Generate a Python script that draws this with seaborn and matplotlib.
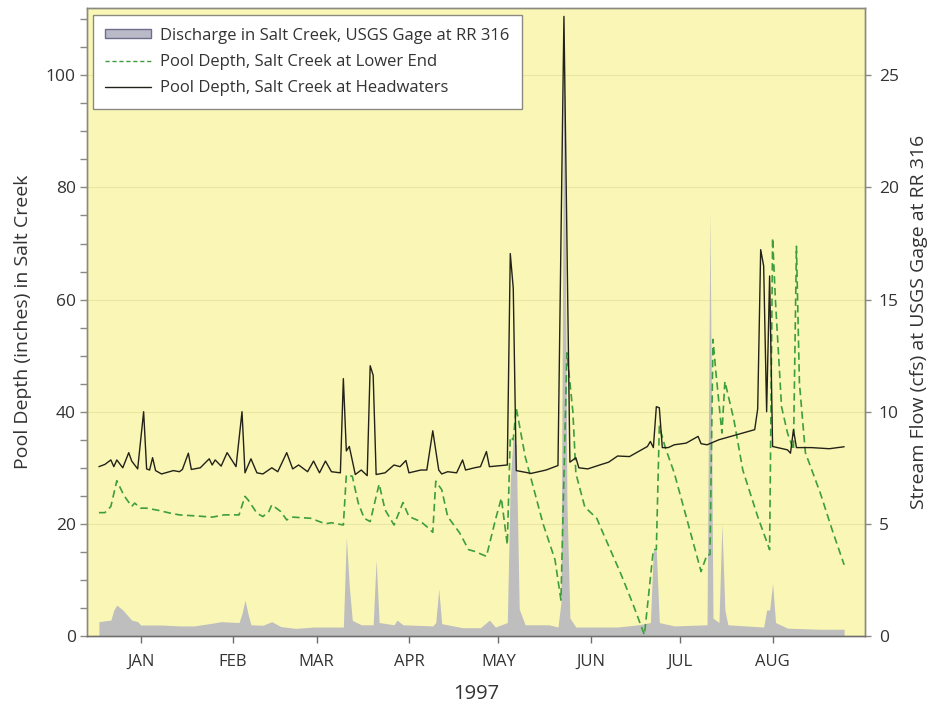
import matplotlib
matplotlib.use("Agg")
import matplotlib.pyplot as plt
import seaborn as sns
import pandas as pd
from matplotlib.patches import Patch
from matplotlib.lines import Line2D
from matplotlib.ticker import MultipleLocator

# ---------------- data ----------------
head_dates = ["1996-12-18", "1996-12-20", "1996-12-22", "1996-12-23", "1996-12-24", "1996-12-26",
              "1996-12-28", "1996-12-29", "1996-12-31", "1997-01-02", "1997-01-03", "1997-01-04",
              "1997-01-05", "1997-01-06", "1997-01-08", "1997-01-12", "1997-01-14", "1997-01-15",
              "1997-01-17", "1997-01-18", "1997-01-21", "1997-01-24", "1997-01-25", "1997-01-26",
              "1997-01-28", "1997-01-30", "1997-02-02", "1997-02-04", "1997-02-05", "1997-02-07",
              "1997-02-09", "1997-02-11", "1997-02-14", "1997-02-16", "1997-02-19", "1997-02-21",
              "1997-02-23", "1997-02-26", "1997-02-28", "1997-03-02", "1997-03-04", "1997-03-06",
              "1997-03-09", "1997-03-10", "1997-03-11", "1997-03-12", "1997-03-14", "1997-03-16",
              "1997-03-18", "1997-03-19", "1997-03-20", "1997-03-21", "1997-03-24", "1997-03-27",
              "1997-03-29", "1997-03-31", "1997-04-01", "1997-04-05", "1997-04-07", "1997-04-09",
              "1997-04-11", "1997-04-12", "1997-04-14", "1997-04-17", "1997-04-19", "1997-04-20",
              "1997-04-23", "1997-04-25", "1997-04-27", "1997-04-28", "1997-04-30", "1997-05-04",
              "1997-05-05", "1997-05-06", "1997-05-07", "1997-05-12", "1997-05-17", "1997-05-21",
              "1997-05-23", "1997-05-25", "1997-05-27", "1997-05-28", "1997-05-31", "1997-06-04",
              "1997-06-07", "1997-06-10", "1997-06-14", "1997-06-17", "1997-06-20", "1997-06-21",
              "1997-06-22", "1997-06-23", "1997-06-24", "1997-06-25", "1997-06-27", "1997-06-29",
              "1997-07-03", "1997-07-07", "1997-07-08", "1997-07-10", "1997-07-14", "1997-07-20",
              "1997-07-26", "1997-07-27", "1997-07-28", "1997-07-29", "1997-07-30", "1997-07-31",
              "1997-08-01", "1997-08-06", "1997-08-07", "1997-08-08", "1997-08-09", "1997-08-14",
              "1997-08-20", "1997-08-25"]
head_depth = [30.2, 30.6, 31.4, 30.2, 31.4, 30.0,
              32.7, 31.2, 29.8, 40.0, 29.8, 29.6,
              31.8, 29.5, 28.9, 29.5, 29.3, 29.7,
              32.6, 29.7, 30.0, 31.6, 30.5, 31.4,
              30.3, 32.7, 30.2, 40.0, 29.1, 31.6,
              29.1, 28.9, 30.0, 29.3, 32.7, 29.8,
              30.5, 29.3, 31.2, 29.1, 31.2, 29.3,
              29.1, 45.9, 33.0, 33.8, 28.8, 29.6,
              28.6, 48.2, 46.5, 28.8, 29.1, 30.5,
              30.2, 31.3, 29.1, 29.6, 29.6, 36.6,
              29.6, 28.9, 29.3, 29.1, 31.4, 29.6,
              30.0, 30.2, 32.9, 30.2, 30.3, 30.5,
              68.2, 62.0, 29.5, 29.0, 29.6, 30.4,
              110.5, 31.0, 31.8, 30.0, 29.8, 30.5,
              31.0, 32.1, 32.0, 32.9, 33.8, 34.7,
              33.6, 40.9, 40.7, 33.6, 33.6, 34.1,
              34.4, 35.6, 34.3, 34.1, 35.0, 35.9,
              36.8, 40.5, 68.9, 66.0, 40.0, 64.2,
              33.8, 33.2, 32.6, 36.8, 33.6, 33.6,
              33.4, 33.75]

lower_dates = ["1996-12-18", "1996-12-20", "1996-12-22", "1996-12-24", "1996-12-26", "1996-12-27",
               "1996-12-29", "1996-12-30", "1997-01-01", "1997-01-03", "1997-01-07", "1997-01-11",
               "1997-01-14", "1997-01-20", "1997-01-25", "1997-01-29", "1997-02-03", "1997-02-05",
               "1997-02-06", "1997-02-09", "1997-02-11", "1997-02-13", "1997-02-14", "1997-02-17",
               "1997-02-19", "1997-02-21", "1997-02-27", "1997-03-04", "1997-03-06", "1997-03-10",
               "1997-03-11", "1997-03-13", "1997-03-15", "1997-03-17", "1997-03-19", "1997-03-22",
               "1997-03-24", "1997-03-27", "1997-03-30", "1997-04-01", "1997-04-05", "1997-04-07",
               "1997-04-09", "1997-04-10", "1997-04-12", "1997-04-14", "1997-04-18", "1997-04-21",
               "1997-04-23", "1997-04-27", "1997-04-30", "1997-05-02", "1997-05-04", "1997-05-05",
               "1997-05-06", "1997-05-07", "1997-05-10", "1997-05-13", "1997-05-16", "1997-05-20",
               "1997-05-22", "1997-05-24", "1997-05-26", "1997-05-27", "1997-05-30", "1997-06-03",
               "1997-06-05", "1997-06-11", "1997-06-15", "1997-06-19", "1997-06-22", "1997-06-23",
               "1997-06-24", "1997-06-26", "1997-06-29", "1997-07-03", "1997-07-08", "1997-07-10",
               "1997-07-11", "1997-07-12", "1997-07-13", "1997-07-15", "1997-07-16", "1997-07-19",
               "1997-07-22", "1997-07-27", "1997-07-31", "1997-08-01", "1997-08-02", "1997-08-04",
               "1997-08-06", "1997-08-08", "1997-08-09", "1997-08-10", "1997-08-12", "1997-08-17",
               "1997-08-21", "1997-08-25"]
lower_depth = [22.0, 22.0, 23.1, 27.7, 25.5, 24.6,
               23.1, 23.7, 22.8, 22.8, 22.4, 21.9,
               21.6, 21.4, 21.2, 21.6, 21.6, 24.9,
               24.3, 21.9, 21.3, 22.2, 23.4, 22.2,
               20.7, 21.2, 21.0, 20.0, 20.2, 19.8,
               28.7, 28.5, 23.7, 21.0, 20.4, 27.1,
               22.5, 19.8, 23.8, 21.3, 20.4, 19.5,
               18.5, 27.6, 26.1, 21.3, 18.4, 15.4,
               15.1, 14.2, 20.7, 24.6, 16.3, 35.5,
               35.0, 40.7, 32.0, 26.0, 20.0, 13.6,
               6.4, 50.5, 40.0, 29.0, 23.0, 21.0,
               18.5, 11.2, 5.9, 0.2, 15.4, 15.4,
               37.4, 33.6, 29.1, 21.3, 11.5, 14.5,
               14.5, 52.9, 46.9, 36.2, 45.4, 38.6,
               29.6, 21.3, 15.4, 71.0, 59.4, 40.9,
               36.2, 33.2, 69.5, 45.1, 32.7, 25.5,
               18.9, 12.7]

flow_dates = ["1996-12-18", "1996-12-22", "1996-12-23", "1996-12-24", "1996-12-26", "1996-12-29",
              "1996-12-31", "1997-01-01", "1997-01-08", "1997-01-14", "1997-01-19", "1997-01-25",
              "1997-01-28", "1997-02-03", "1997-02-04", "1997-02-05", "1997-02-06", "1997-02-07",
              "1997-02-11", "1997-02-14", "1997-02-17", "1997-02-22", "1997-02-28", "1997-03-10",
              "1997-03-11", "1997-03-12", "1997-03-13", "1997-03-16", "1997-03-20", "1997-03-21",
              "1997-03-22", "1997-03-27", "1997-03-28", "1997-03-30", "1997-04-09", "1997-04-10",
              "1997-04-11", "1997-04-12", "1997-04-19", "1997-04-25", "1997-04-28", "1997-04-30",
              "1997-05-04", "1997-05-05", "1997-05-06", "1997-05-07", "1997-05-08", "1997-05-10",
              "1997-05-18", "1997-05-21", "1997-05-22", "1997-05-23", "1997-05-24", "1997-05-25",
              "1997-05-27", "1997-06-10", "1997-06-17", "1997-06-21", "1997-06-22", "1997-06-23",
              "1997-06-24", "1997-06-29", "1997-07-10", "1997-07-11", "1997-07-12", "1997-07-14",
              "1997-07-15", "1997-07-16", "1997-07-17", "1997-07-29", "1997-07-30", "1997-07-31",
              "1997-08-01", "1997-08-02", "1997-08-06", "1997-08-17", "1997-08-25"]
flow_cfs = [0.64, 0.71, 1.16, 1.38, 1.16, 0.71,
            0.64, 0.49, 0.49, 0.45, 0.45, 0.57,
            0.64, 0.60, 1.0, 1.6, 1.0, 0.5,
            0.48, 0.64, 0.42, 0.34, 0.40, 0.40,
            4.4, 2.2, 0.7, 0.5, 0.5, 3.4,
            0.6, 0.5, 0.71, 0.5, 0.45, 0.6,
            2.1, 0.55, 0.37, 0.37, 0.71, 0.40,
            0.6, 7.0, 8.9, 8.5, 1.2, 0.5,
            0.5, 0.4, 1.5, 27.5, 6.0, 0.8,
            0.4, 0.4, 0.5, 0.6, 3.8, 3.8,
            0.6, 0.45, 0.5, 19.0, 0.8, 0.6,
            5.0, 1.16, 0.5, 0.4, 1.16, 1.16,
            2.35, 0.6, 0.35, 0.3, 0.3]

month_ticks = ["1997-01-01", "1997-02-01", "1997-03-01", "1997-04-01",
               "1997-05-01", "1997-06-01", "1997-07-01", "1997-08-01"]
month_labels = ["JAN", "FEB", "MAR", "APR", "MAY", "JUN", "JUL", "AUG"]

labels = ["Discharge in Salt Creek, USGS Gage at RR 316",
          "Pool Depth, Salt Creek at Lower End",
          "Pool Depth, Salt Creek at Headwaters"]

# ---------------- styling ----------------
sns.set_style("ticks")
plt.rcParams['font.family'] = ['Open Sans', 'DejaVu Sans']

BG = "#FAF7B6"
GREEN = "#3E9E3E"
BLACK = "#222218"
GRAY = "#BEBEBE"
SPINE = "#8A8A80"
TXT = "#333333"

head = pd.DataFrame({"date": pd.to_datetime(head_dates), "depth": head_depth})
lower = pd.DataFrame({"date": pd.to_datetime(lower_dates), "depth": lower_depth})
flow = pd.DataFrame({"date": pd.to_datetime(flow_dates), "cfs": flow_cfs})

fig = plt.figure(figsize=(9.29, 7.10), dpi=100)
ax = fig.add_axes([87 / 929, 1 - 636 / 710, (865 - 87) / 929, (636 - 8) / 710])
ax2 = ax.twinx()

# discharge (right axis) behind the depth lines
ax2.set_zorder(1)
ax.set_zorder(2)
ax.patch.set_visible(False)
ax2.patch.set_visible(True)
ax2.patch.set_facecolor(BG)

ax2.fill_between(flow["date"], flow["cfs"], 0, color=GRAY, linewidth=0)
ax2.grid(axis="y", color="#E9E5A2", linewidth=0.8)

sns.lineplot(data=lower, x="date", y="depth", ax=ax, color=GREEN, linewidth=1.2, legend=False)
ax.lines[-1].set_dashes([4.5, 2.6])
sns.lineplot(data=head, x="date", y="depth", ax=ax, color=BLACK, linewidth=1.0, legend=False)

ax.set_xlim(pd.Timestamp("1996-12-14"), pd.Timestamp("1997-09-01"))
ax.set_ylim(0, 112)
ax2.set_ylim(0, 28)
ax.yaxis.set_major_locator(MultipleLocator(20))
ax.yaxis.set_minor_locator(MultipleLocator(5))
ax2.yaxis.set_major_locator(MultipleLocator(5))

ax.set_xticks(pd.to_datetime(month_ticks))
ax.set_xticklabels(month_labels)

for a in (ax, ax2):
    for s in a.spines.values():
        s.set_color(SPINE)
        s.set_linewidth(1.0)
ax.spines["bottom"].set_color("#6E6E6E")

ax.tick_params(axis="y", which="both", direction="out", length=5, width=1,
               color=SPINE, labelsize=12.5, pad=3, labelcolor=TXT)
ax.tick_params(axis="x", direction="out", length=5, width=1, color="#6E6E6E",
               labelsize=12, pad=8, labelcolor=TXT)
ax2.tick_params(axis="y", direction="out", length=4, width=1, color=SPINE,
                labelsize=12.5, pad=6, labelcolor=TXT)

ax.set_xlabel("1997", fontsize=14.5, labelpad=10, color=TXT)
ax.set_ylabel("Pool Depth (inches) in Salt Creek", fontsize=14, labelpad=10, color=TXT)
ax2.set_ylabel("Stream Flow (cfs) at USGS Gage at RR 316", fontsize=14, labelpad=8,
               color=TXT, rotation=90)

handles = [Patch(facecolor="#B9B9C8", edgecolor="#6E6E8C", linewidth=1.0),
           Line2D([], [], color=GREEN, linewidth=1.0, linestyle=(0, (3, 2))),
           Line2D([], [], color=BLACK, linewidth=1.0)]
leg = ax.legend(handles, labels, loc="upper left",
                bbox_to_anchor=(93 / 929, 1 - 15 / 710), bbox_transform=fig.transFigure,
                frameon=True, fancybox=False, framealpha=1, edgecolor="#8A8A80",
                fontsize=12, handlelength=2.7, handleheight=0.45, labelspacing=0.62,
                borderpad=0.75, borderaxespad=0, handletextpad=0.6)
leg.get_frame().set_linewidth(1.0)
for t in leg.get_texts():
    t.set_color(TXT)

fig.savefig("out.png", dpi=100, facecolor="white")
